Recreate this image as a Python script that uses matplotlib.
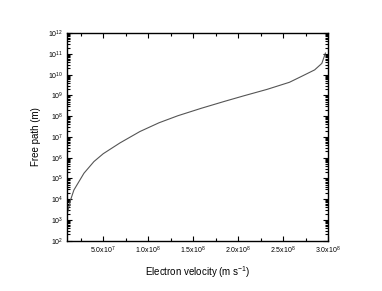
import numpy as np
import matplotlib.pyplot as plt
from matplotlib.ticker import FixedLocator, FuncFormatter, LogLocator, NullFormatter

plt.rcParams['font.family'] = ['Liberation Sans', 'DejaVu Sans']
plt.rcParams['mathtext.default'] = 'regular'

# data
velocity = [1.0e7, 1.37e7, 1.74e7, 2.86e7, 3.97e7, 5.0e7, 6.86e7, 9.08e7, 1.12e8,
            1.33e8, 1.59e8, 1.85e8, 2.06e8, 2.32e8, 2.57e8, 2.70e8, 2.85e8,
            2.93e8, 2.97e8]
free_path = [2.0e3, 9.1e3, 2.75e4, 1.78e5, 6.5e5, 1.55e6, 5.13e6, 1.82e7, 4.8e7,
             1.05e8, 2.4e8, 5.2e8, 9.5e8, 1.95e9, 4.3e9, 8.1e9, 1.7e10,
             3.5e10, 1.1e11]

x_major = [5e7, 1e8, 1.5e8, 2e8, 2.5e8, 3e8]
x_minor = [2.5e7, 7.5e7, 1.25e8, 1.75e8, 2.25e8, 2.75e8]

fig = plt.figure(figsize=(3.82, 2.91), dpi=100)
ax = fig.add_axes([0.176, 0.173, 0.683, 0.713])

ax.semilogy(velocity, free_path, color='#555555', lw=0.8)
ax.set_xlim(1e7, 3e8)
ax.set_ylim(1e2, 1e12)


def xfmt(v, pos):
    e = int(np.floor(np.log10(v)))
    return '%.1fx10$^{%d}$' % (v / 10**e, e)


ax.xaxis.set_major_locator(FixedLocator(x_major))
ax.xaxis.set_minor_locator(FixedLocator(x_minor))
ax.xaxis.set_major_formatter(FuncFormatter(xfmt))
ax.yaxis.set_major_locator(LogLocator(base=10, numticks=20))
ax.yaxis.set_minor_locator(LogLocator(base=10, subs=np.arange(2, 10), numticks=20))
ax.yaxis.set_minor_formatter(NullFormatter())
ax.yaxis.set_major_formatter(FuncFormatter(lambda v, p: '10$^{%d}$' % round(np.log10(v))))

ax.tick_params(which='both', direction='in', top=True, right=True, labelsize=5, width=0.8)
ax.tick_params(which='major', length=3.5, pad=3)
ax.tick_params(which='minor', length=2)
for s in ax.spines.values():
    s.set_linewidth(1.0)

ax.set_xlabel('Electron velocity (m s$^{-1}$)', fontsize=7, labelpad=6)
ax.set_ylabel('Free path (m)', fontsize=7, labelpad=5)

fig.savefig('out.png', dpi=100)
